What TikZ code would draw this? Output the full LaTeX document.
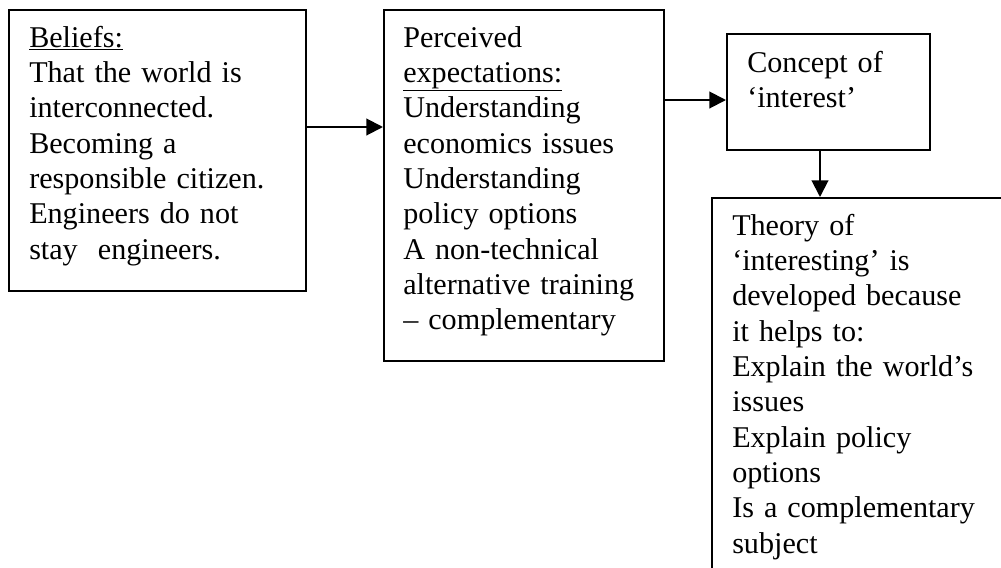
\documentclass[tikz,border=0pt]{standalone}
\usepackage{fontspec}
\setmainfont{Liberation Serif}
\usetikzlibrary{arrows.meta}
\begin{document}
\begin{tikzpicture}[x=0.75pt,y=-0.75pt,
  box/.style={draw, line width=1.5pt, rectangle, inner sep=0pt, anchor=north west},
  txt/.style={anchor=base west, inner sep=0pt, text width=240pt, align=left,
    font=\fontsize{22.6pt}{26.5pt}\selectfont},
  arr/.style={line width=1.5pt, -{Triangle[length=12.5pt,width=12.5pt]}}]
\clip (0,0) rectangle (1001,568);
\fill[white] (0,0) rectangle (1001,568);
% boxes
\node[box, minimum width=222.75pt, minimum height=210.75pt] (b1) at (8,9) {};
\node[box, minimum width=210pt, minimum height=263.25pt] (b2) at (383,9) {};
\node[box, minimum width=152.25pt, minimum height=87pt] (b3) at (726,33) {};
\node[box, minimum width=231.75pt, minimum height=302.25pt] (b4) at (711,197) {};
% texts
\node[txt] (t1) at (29,47) {\underline{Beliefs:}\\That the world is\\interconnected.\\Becoming a\\responsible citizen.\\Engineers do not\\stay~~engineers.};
\node[txt] (t2) at (403,47) {Perceived\\\underline{expectations:}\\Understanding\\economics issues\\Understanding\\policy options\\A non-technical\\alternative training\\-- complementary};
\node[txt] (t3) at (747,72) {Concept of\\`interest'};
\node[txt] (t4) at (732,235) {Theory of\\`interesting' is\\developed because\\it helps to:\\Explain the world's\\issues\\Explain policy\\options\\Is a complementary\\subject};
% connectors
\coordinate (a1) at (0,127);
\coordinate (a2) at (0,100);
\coordinate (a3) at (820,0);
\draw[arr] (b1.east |- a1) -- (b2.west |- a1);
\draw[arr] (b2.east |- a2) -- (b3.west |- a2);
\draw[arr] (b3.south -| a3) -- (b4.north -| a3);
\end{tikzpicture}
\end{document}
